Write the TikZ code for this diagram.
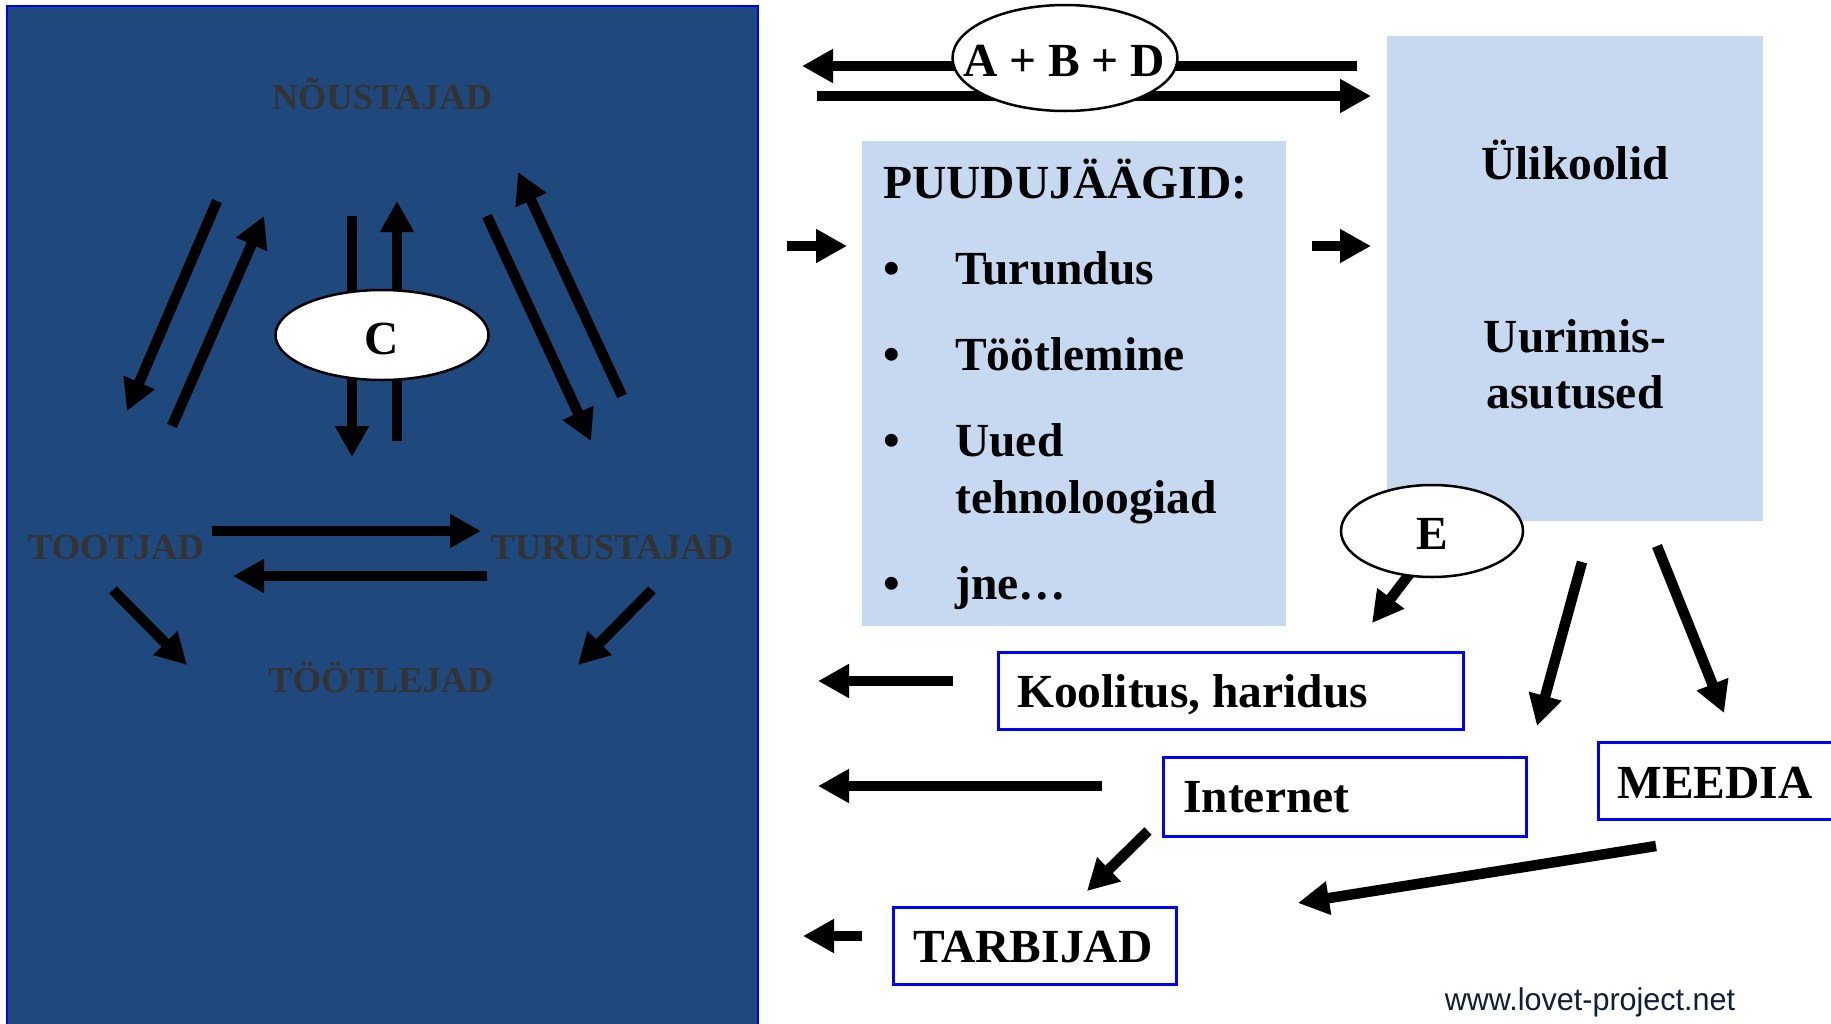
\documentclass[tikz,border=0pt]{standalone}
\usepackage{fontspec}
\setmainfont{Liberation Serif}
\newfontfamily\urlfont{Liberation Sans}
\usetikzlibrary{arrows.meta,shapes.geometric}
\definecolor{panelblue}{HTML}{1F487C}
\definecolor{pureblue}{HTML}{0000FF}
\definecolor{lightbox}{HTML}{C6D9F1}
\definecolor{darktext}{HTML}{333333}
\definecolor{urlcol}{HTML}{101E36}
\begin{document}
\begin{tikzpicture}[x=1pt,y=-1pt,
  arr/.style={line width=10.5pt,-{Triangle[length=31pt,width=32pt]}},
  lbl/.style={inner sep=0pt,font=\fontsize{36.5}{43}\selectfont\bfseries,text=darktext},
  txt/.style={inner sep=0pt,font=\fontsize{47.5}{57}\selectfont\bfseries,text=black},
  oval/.style={ellipse,draw=black,line width=2.5pt,fill=white,inner sep=0pt},
  boxb/.style={rectangle,draw=pureblue,line width=2.5pt,fill=white,inner sep=0pt,anchor=north west},
  boxl/.style={rectangle,fill=lightbox,inner sep=0pt,anchor=north west}
]
\useasboundingbox (0,0) rectangle (1831,1023);
\fill[white] (0,0) rectangle (1831,1023);

% ---------- left panel ----------
\node[rectangle,fill=panelblue,draw=pureblue,line width=2pt,inner sep=0pt,anchor=north west,
      minimum width=751pt,minimum height=1030pt] (panel) at (6,5) {};

\node[lbl,anchor=base] (nous) at (382,109) {NÕUSTAJAD};
\node[lbl,anchor=base] (toot) at (116,559) {TOOTJAD};
\node[lbl,anchor=base] (turu) at (612,559) {TURUSTAJAD};
\node[lbl,anchor=base] (tootl) at (381,692) {TÖÖTLEJAD};

\coordinate (vd1) at (352,216); \coordinate (vd2) at (352,457);
\coordinate (vu1) at (397,441); \coordinate (vu2) at (397,201);
\coordinate (ld1) at (217,201); \coordinate (ld2) at (127,411);
\coordinate (lu1) at (172,426); \coordinate (lu2) at (264,216);
\coordinate (rd1) at (487,216); \coordinate (rd2) at (591,441);
\coordinate (ru1) at (622,396); \coordinate (ru2) at (518,172);
\coordinate (hr1) at (212,531); \coordinate (hr2) at (481,531);
\coordinate (hl1) at (487,576); \coordinate (hl2) at (233,576);
\coordinate (dl1) at (113,590); \coordinate (dl2) at (187,665);
\coordinate (dr1) at (652,590); \coordinate (dr2) at (578,665);

\draw[arr] (vd1) -- (vd2);
\draw[arr] (vu1) -- (vu2);
\draw[arr] (ld1) -- (ld2);
\draw[arr] (lu1) -- (lu2);
\draw[arr] (rd1) -- (rd2);
\draw[arr] (ru1) -- (ru2);
\draw[arr] (hr1) -- (hr2);
\draw[arr] (hl1) -- (hl2);
\draw[arr] (dl1) -- (dl2);
\draw[arr] (dr1) -- (dr2);

\node[oval,minimum width=213pt,minimum height=90pt] (cov) at (382,335) {};
\node[txt,anchor=base] (ctxt) at (382,354) {C};

% ---------- top arrows and A+B+D ----------
\coordinate (tl1) at (1357,66); \coordinate (tl2) at (802,66);
\coordinate (tr1) at (817,96);  \coordinate (tr2) at (1371,96);
\draw[arr] (tl1) -- (tl2);
\draw[arr] (tr1) -- (tr2);
\node[oval,minimum width=225pt,minimum height=106pt] (abd) at (1065,58) {};
\node[txt,anchor=base] (abdtxt) at (1064,76) {A + B + D};

% ---------- PUUDUJÄÄGID box ----------
\node[boxl,minimum width=424pt,minimum height=485pt] (puud) at (862,141) {};
\node[txt,anchor=base west] (puudh) at (883,198) {PUUDUJÄÄGID:};
\node[txt,anchor=base west] (b1) at (883,284) {•};
\node[txt,anchor=base west] (b2) at (883,370) {•};
\node[txt,anchor=base west] (b3) at (883,456) {•};
\node[txt,anchor=base west] (b4) at (883,599) {•};
\node[txt,anchor=base west] (it1) at (955,284) {Turundus};
\node[txt,anchor=base west] (it2) at (955,370) {Töötlemine};
\node[txt,anchor=base west] (it3) at (955,456) {Uued};
\node[txt,anchor=base west] (it3b) at (955,513) {tehnoloogiad};
\node[txt,anchor=base west] (it4) at (955,599) {jne…};

% ---------- Ülikoolid box ----------
\node[boxl,minimum width=376pt,minimum height=485pt] (uli) at (1387,36) {};
\node[txt,anchor=base] (ulit) at (1575,179) {Ülikoolid};
\node[txt,anchor=base] (uur1) at (1575,352) {Uurimis-};
\node[txt,anchor=base] (uur2) at (1575,408) {asutused};

\coordinate (pa1) at (787,246);  \coordinate (pa2) at (847,246);
\coordinate (pb1) at (1312,246); \coordinate (pb2) at (1371,246);
\draw[arr] (pa1) -- (pa2);
\draw[arr] (pb1) -- (pb2);

% ---------- E and arrows down ----------
\coordinate (e1) at (1414,568); \coordinate (e2) at (1372,623);
\coordinate (u1) at (1582,562); \coordinate (u2) at (1537,726);
\coordinate (m1) at (1657,546); \coordinate (m2) at (1724,713);
\draw[arr] (e1) -- (e2);
\draw[arr] (u1) -- (u2);
\draw[arr] (m1) -- (m2);
\node[oval,minimum width=182pt,minimum height=92pt] (eov) at (1432,531) {};
\node[txt,anchor=base] (etxt) at (1432,549) {E};

% ---------- white boxes ----------
\node[boxb,minimum width=465pt,minimum height=77pt] (kbox) at (997,651) {};
\node[txt,anchor=base west] (ktxt) at (1017,707) {Koolitus, haridus};
\node[boxb,minimum width=363pt,minimum height=79pt] (ibox) at (1162,756) {};
\node[txt,anchor=base west] (itxt) at (1183,812) {Internet};
\node[boxb,minimum width=283pt,minimum height=77pt] (tbox) at (892,906) {};
\node[txt,anchor=base west] (ttxt) at (913,962) {TARBIJAD};
\node[boxb,minimum width=260pt,minimum height=77pt] (mbox) at (1597,741) {};
\node[txt,anchor=base west] (mtxt) at (1617,798) {MEEDIA};

% ---------- left-pointing arrows ----------
\coordinate (k1) at (953,681);  \coordinate (k2) at (818,681);
\coordinate (i1) at (1102,786); \coordinate (i2) at (818,786);
\coordinate (t1) at (862,936);  \coordinate (t2) at (803,936);
\coordinate (it1c) at (1148,831); \coordinate (it2c) at (1087,891);
\coordinate (me1) at (1656,846); \coordinate (me2) at (1298,903);
\draw[arr] (k1) -- (k2);
\draw[arr] (i1) -- (i2);
\draw[arr] (t1) -- (t2);
\draw[arr] (it1c) -- (it2c);
\draw[arr] (me1) -- (me2);

\node[inner sep=0pt,font=\urlfont\fontsize{31.5}{34}\selectfont,text=urlcol,anchor=base] (url) at (1590,1010) {\scalebox{0.97}[1]{www.lovet-project.net}};
\end{tikzpicture}
\end{document}
